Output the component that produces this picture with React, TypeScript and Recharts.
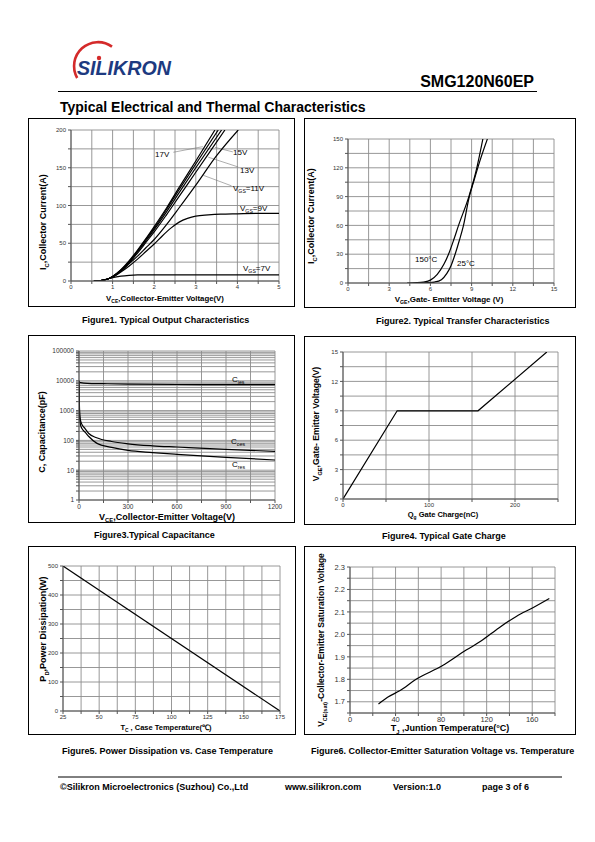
import React from 'react';
import { LineChart, Line, XAxis, YAxis, CartesianGrid, ReferenceLine } from 'recharts';

const FONT = '"Liberation Sans", Arial, Helvetica, sans-serif';

// ---------- Figure 1: output characteristics (VCE [V], IC [A]) ----------
const fig1XTicks = [0, 0.5, 1, 1.5, 2, 2.5, 3, 3.5, 4, 4.5, 5];
const fig1YTicks = [0, 25, 50, 75, 100, 125, 150, 175, 200];
const vgs19V = [[0.55, 0], [0.75, 1], [0.9, 3], [1.0, 6], [1.2, 15], [1.4, 27], [1.6, 41], [1.8, 56], [2.0, 72], [2.3, 97], [2.6, 124], [3.0, 159], [3.46, 200]];
const vgs17V = [[0.55, 0], [0.75, 1], [0.9, 3], [1.0, 6], [1.2, 14.5], [1.4, 26], [1.6, 40], [1.8, 55], [2.0, 70], [2.3, 95], [2.6, 121], [3.0, 155], [3.54, 200]];
const vgs15V = [[0.55, 0], [0.75, 1], [0.9, 3], [1.0, 6], [1.2, 14], [1.4, 25], [1.6, 39], [1.8, 53], [2.0, 68], [2.3, 92], [2.6, 117], [3.0, 150], [3.62, 200]];
const vgs13V = [[0.55, 0], [0.75, 1], [0.9, 3], [1.0, 5.5], [1.2, 13.5], [1.4, 24], [1.6, 37], [1.8, 51], [2.0, 65], [2.3, 88], [2.6, 112], [3.0, 144], [3.7, 200]];
const vgs11V = [[0.55, 0], [0.75, 1], [0.9, 3], [1.0, 5.5], [1.2, 13], [1.4, 23], [1.6, 33], [1.8, 44], [2.0, 55], [2.3, 75], [2.6, 97], [3.0, 127], [3.5, 166], [4.02, 200]];
const vgs9V = [[0.55, 0], [0.75, 1], [0.9, 3], [1.0, 5], [1.2, 12], [1.4, 20], [1.6, 29], [1.8, 39], [2.0, 49], [2.2, 60], [2.4, 70], [2.6, 78], [2.8, 83], [3.0, 86], [3.3, 87.5], [3.6, 88.5], [4.0, 89], [4.5, 89.5], [5.0, 89.5]];
const vgs7V = [[0.55, 0], [0.75, 1], [0.9, 3], [1.0, 4.5], [1.2, 6.5], [1.4, 7.5], [1.6, 8], [2.0, 8], [3.0, 8], [4.0, 8.2], [5.0, 8]];
// annotation leader lines [x1, y1, x2, y2] in data units
const fig1Leaders = [[2.46, 170.5, 3.17, 178], [3.46, 177, 3.89, 171], [3.3, 164, 4.02, 151], [3.18, 140, 3.86, 126]];

// ---------- Figure 2: transfer characteristics (VGE [V], IC [A]) ----------
const fig2XTicks = [0, 1.5, 3, 4.5, 6, 7.5, 9, 10.5, 12, 13.5, 15];
const fig2YTicks = [0, 15, 30, 45, 60, 75, 90, 105, 120, 135, 150];
const tj150 = [[4.3, 0], [5, 0.3], [5.5, 1], [6, 3], [6.5, 9], [7, 20], [7.32, 30], [7.7, 45], [8.05, 60], [8.8, 90], [9.38, 120], [9.82, 150]];
const tj25 = [[5, 0], [5.8, 0.3], [6.3, 1], [6.8, 3.5], [7.2, 10], [7.5, 18], [7.8, 30], [8.1, 44], [8.41, 60], [8.8, 88], [9.2, 108], [9.6, 127], [10.15, 150]];

// ---------- Figure 3: capacitance (VCE [V], C [pF]) ----------
const fig3XTicks = [0, 150, 300, 450, 600, 750, 900, 1050, 1200];
const fig3YTicks = [1, 2, 3, 4, 5, 6, 7, 8, 9, 10, 20, 30, 40, 50, 60, 70, 80, 90, 100, 200, 300, 400, 500, 600, 700, 800, 900, 1000, 2000, 3000, 4000, 5000, 6000, 7000, 8000, 9000, 10000, 20000, 30000, 40000, 50000, 60000, 70000, 80000, 90000, 100000];
const cies = [[0, 8800], [50, 8200], [150, 8000], [300, 7700], [600, 7500], [900, 7450], [1200, 7400]];
const coes = [[0, 10000], [2, 2000], [5, 700], [10, 450], [20, 330], [37, 250], [60, 170], [108, 123], [200, 92], [300, 77], [450, 66], [600, 60], [900, 50], [1200, 43]];
const cres = [[0, 10000], [2, 1500], [5, 500], [10, 320], [20, 240], [37, 190], [60, 135], [108, 81], [200, 58], [300, 46], [450, 39], [600, 34], [900, 27], [1200, 22]];

// ---------- Figure 4: gate charge (Qg [nC], VGE [V]) ----------
const fig4XTicks = [0, 50, 100, 150, 200, 250];
const fig4YTicks = [0, 1.5, 3, 4.5, 6, 7.5, 9, 10.5, 12, 13.5, 15];
const gateCharge = [[0, 0], [63, 9], [157, 9], [237, 15]];

// ---------- Figure 5: power dissipation (TC [°C], PD [W]) ----------
const fig5XTicks = [25, 37.5, 50, 62.5, 75, 87.5, 100, 112.5, 125, 137.5, 150, 162.5, 175];
const fig5YTicks = [0, 50, 100, 150, 200, 250, 300, 350, 400, 450, 500];
const powerDiss = [[25, 500], [175, 0]];

// ---------- Figure 6: VCE(sat) vs TJ ----------
const fig6XTicks = [0, 20, 40, 60, 80, 100, 120, 140, 160, 180];
const fig6YTicks = [1.65, 1.7, 1.75, 1.8, 1.85, 1.9, 1.95, 2.0, 2.05, 2.1, 2.15, 2.2, 2.25, 2.3];
const vceSat = [[25, 1.69], [33, 1.72], [44, 1.75], [58, 1.8], [81, 1.86], [102, 1.93], [115, 1.97], [131, 2.03], [146, 2.08], [161, 2.12], [175, 2.16]];

const toXY = (a: number[][]) => a.map(([x, y]) => ({ x, y }));

type Rect = { x: number; y: number; w: number; h: number };
type Area = { l: number; t: number; r: number; b: number };
const YW = 30;
const XH = 12;

function Panel(props: any) {
  const { box, plot, xDomain, xTicks, xFmt, yDomain, yTicks, yFmt, yScale, fs, children } = props;
  const b: Rect = box;
  const p: Area = plot;
  const margin = { top: p.t - b.y, right: b.x + b.w - p.r, bottom: b.y + b.h - p.b - XH, left: p.l - b.x - YW };
  const tickStyle = { fontSize: fs, fill: '#333', fontFamily: FONT };
  return (
    <div style={{ position: 'absolute', left: b.x, top: b.y, width: b.w, height: b.h }}>
      <LineChart width={b.w} height={b.h} margin={margin}>
        <CartesianGrid stroke="#8c8c8c" strokeWidth={0.9} />
        <XAxis type="number" dataKey="x" domain={xDomain} ticks={xTicks} tickFormatter={xFmt} interval={0}
          allowDataOverflow height={XH} tick={tickStyle} tickSize={3} tickMargin={1} stroke="#555" />
        <YAxis type="number" dataKey="y" domain={yDomain} ticks={yTicks} tickFormatter={yFmt} interval={0}
          allowDataOverflow width={YW} scale={yScale || 'auto'} tick={tickStyle} tickSize={3} tickMargin={2} stroke="#555" />
        {children}
      </LineChart>
    </div>
  );
}

const line = (data: number[][], key: string, type: any = 'monotone') => (
  <Line key={key} data={toXY(data)} dataKey="y" type={type} stroke="#000" strokeWidth={1.2} dot={false}
    isAnimationActive={false} />
);

function SubText(props: any) {
  const { x, y, main, sub, rest, size, rotate, anchor = 'middle', weight = 'bold' } = props;
  const tr = rotate ? `rotate(-90 ${x} ${y})` : undefined;
  return (
    <text x={x} y={y} fontSize={size} fontWeight={weight} textAnchor={anchor} transform={tr}
      fontFamily={FONT} fill="#000">
      {main}
      <tspan fontSize={size * 0.65} dy={size * 0.3}>{sub}</tspan>
      <tspan dy={-size * 0.3}>{rest}</tspan>
    </text>
  );
}

const boxes: Rect[] = [
  { x: 28, y: 118, w: 267, h: 189 },
  { x: 304, y: 118, w: 272, h: 190 },
  { x: 28, y: 335, w: 267, h: 188 },
  { x: 304, y: 336, w: 272, h: 189 },
  { x: 28, y: 546, w: 268, h: 189 },
  { x: 304, y: 546, w: 272, h: 189 },
];

export default function App() {
  return (
    <div style={{ position: 'absolute', left: 0, top: 0, width: 595, height: 842, background: '#fff', overflow: 'hidden' }}>
      {boxes.map((b, i) => (
        <div key={i} style={{ position: 'absolute', left: b.x, top: b.y, width: b.w, height: b.h, border: '1.5px solid #000', boxSizing: 'border-box' }} />
      ))}

      <Panel box={boxes[0]} plot={{ l: 71, t: 130, r: 279, b: 281 }} fs={6}
        xDomain={[0, 5]} xTicks={fig1XTicks} xFmt={(v: number) => (Number.isInteger(v) ? String(v) : '')}
        yDomain={[0, 200]} yTicks={fig1YTicks} yFmt={(v: number) => (v % 50 === 0 ? String(v) : '')}>
        {fig1Leaders.map((s, i) => (
          <ReferenceLine key={'l' + i} segment={[{ x: s[0], y: s[1] }, { x: s[2], y: s[3] }]} stroke="#777" strokeWidth={0.6} />
        ))}
        {line(vgs7V, 'v7')}
        {line(vgs9V, 'v9')}
        {line(vgs11V, 'v11')}
        {line(vgs13V, 'v13')}
        {line(vgs15V, 'v15')}
        {line(vgs17V, 'v17')}
        {line(vgs19V, 'v19')}
      </Panel>

      <Panel box={boxes[1]} plot={{ l: 348, t: 139, r: 554, b: 283 }} fs={6}
        xDomain={[0, 15]} xTicks={fig2XTicks} xFmt={(v: number) => (v % 3 === 0 ? String(v) : '')}
        yDomain={[0, 150]} yTicks={fig2YTicks} yFmt={(v: number) => (v % 30 === 0 ? String(v) : '')}>
        {line(tj150, 't150')}
        {line(tj25, 't25')}
      </Panel>

      <Panel box={boxes[2]} plot={{ l: 79, t: 351, r: 275, b: 500 }} fs={6.5} yScale="log"
        xDomain={[0, 1200]} xTicks={fig3XTicks} xFmt={(v: number) => (v % 300 === 0 ? String(v) : '')}
        yDomain={[1, 100000]} yTicks={fig3YTicks} yFmt={(v: number) => (/^10*$/.test(String(v)) ? String(v) : '')}>
        {line(cies, 'cies')}
        {line(coes, 'coes')}
        {line(cres, 'cres')}
      </Panel>

      <Panel box={boxes[3]} plot={{ l: 343, t: 352, r: 558, b: 499 }} fs={6}
        xDomain={[0, 250]} xTicks={fig4XTicks} xFmt={(v: number) => (v % 100 === 0 ? String(v) : '')}
        yDomain={[0, 15]} yTicks={fig4YTicks} yFmt={(v: number) => (v % 3 === 0 ? String(v) : '')}>
        {line(gateCharge, 'qg', 'linear')}
      </Panel>

      <Panel box={boxes[4]} plot={{ l: 63, t: 566, r: 280, b: 711 }} fs={6}
        xDomain={[25, 175]} xTicks={fig5XTicks} xFmt={(v: number) => ((v - 25) % 25 === 0 ? String(v) : '')}
        yDomain={[0, 500]} yTicks={fig5YTicks} yFmt={(v: number) => (v % 100 === 0 ? String(v) : '')}>
        {line(powerDiss, 'pd', 'linear')}
      </Panel>

      <Panel box={boxes[5]} plot={{ l: 350, t: 567, r: 555, b: 713 }} fs={7.5}
        xDomain={[0, 180]} xTicks={fig6XTicks} xFmt={(v: number) => (v % 40 === 0 && v < 180 ? String(v) : '')}
        yDomain={[1.65, 2.3]} yTicks={fig6YTicks}
        yFmt={(v: number) => (Math.abs(v * 10 - Math.round(v * 10)) < 1e-6 ? v.toFixed(1) : '')}>
        {line(vceSat, 'vce')}
      </Panel>

      <svg width={595} height={842} style={{ position: 'absolute', left: 0, top: 0, pointerEvents: 'none' }}>
        {/* logo */}
        <path d="M 112 46.6 A 24 24 0 0 0 77.2 78" stroke="#d42a2a" strokeWidth={2.6} fill="none" />
        <text x={77} y={75} fontSize={20} fontWeight="bold" fontStyle="italic" fill="#1d3a80" fontFamily={FONT}
          textLength={94} lengthAdjust="spacingAndGlyphs">SILIKRON</text>
        <circle cx={99} cy={58} r={2.2} fill="#d42a2a" />

        <text x={534} y={87} fontSize={16} fontWeight="bold" textAnchor="end" fontFamily={FONT}>SMG120N60EP</text>
        <line x1={58} y1={91.5} x2={537} y2={91.5} stroke="#000" strokeWidth={1.2} />
        <text x={60} y={112} fontSize={14} fontWeight="bold" fontFamily={FONT}>Typical Electrical and Thermal Characteristics</text>

        {/* Figure 1 texts */}
        <SubText x={46} y={222} rotate main="I" sub="C" rest=",Collector Current(A)" size={9} />
        <SubText x={165} y={301} main="V" sub="CE" rest=",Collector-Emitter Voltage(V)" size={7.8} />
        <text x={155} y={157} fontSize={8} fontFamily={FONT}>17V</text>
        <text x={233} y={155} fontSize={8} fontFamily={FONT}>15V</text>
        <text x={240} y={173} fontSize={8} fontFamily={FONT}>13V</text>
        <SubText x={233} y={191} anchor="start" weight="normal" main="V" sub="GS" rest="=11V" size={8} />
        <SubText x={240} y={211} anchor="start" weight="normal" main="V" sub="GS" rest="=9V" size={8} />
        <SubText x={243} y={271} anchor="start" weight="normal" main="V" sub="GS" rest="=7V" size={8} />
        <text x={82} y={323} fontSize={9} fontWeight="bold" fontFamily={FONT}>Figure1. Typical Output Characteristics</text>

        {/* Figure 2 texts */}
        <SubText x={314} y={216} rotate main="I" sub="C" rest=",Collector Current(A)" size={9} />
        <SubText x={449} y={302} main="V" sub="GE" rest=",Gate- Emitter Voltage (V)" size={8} />
        <text x={415} y={262} fontSize={8} fontFamily={FONT}>150°C</text>
        <text x={457} y={266} fontSize={8} fontFamily={FONT}>25°C</text>
        <text x={376} y={324} fontSize={9} fontWeight="bold" fontFamily={FONT}>Figure2. Typical Transfer Characteristics</text>

        {/* Figure 3 texts */}
        <text x={45} y={432} fontSize={9} fontWeight="bold" fontFamily={FONT} textAnchor="middle" transform="rotate(-90 45 432)">C, Capacitance(pF)</text>
        <SubText x={167} y={519.5} main="V" sub="CE" rest=",Collector-Emitter Voltage(V)" size={9} />
        <SubText x={232} y={382} anchor="start" weight="normal" main="C" sub="ies" rest="" size={8} />
        <SubText x={231} y={444} anchor="start" weight="normal" main="C" sub="oes" rest="" size={8} />
        <SubText x={232} y={467} anchor="start" weight="normal" main="C" sub="res" rest="" size={8} />
        <text x={94} y={538} fontSize={9} fontWeight="bold" fontFamily={FONT}>Figure3.Typical Capacitance</text>

        {/* Figure 4 texts */}
        <SubText x={319} y={424} rotate main="V" sub="GE" rest=",Gate- Emitter Voltage(V)" size={8.6} />
        <SubText x={443} y={517} main="Q" sub="g" rest=" Gate Charge(nC)" size={7.5} />
        <text x={382} y={539} fontSize={9} fontWeight="bold" fontFamily={FONT}>Figure4. Typical Gate Charge</text>

        {/* Figure 5 texts */}
        <SubText x={46} y={629} rotate main="P" sub="D" rest=",Power Dissipation(W)" size={9} />
        <SubText x={166} y={730} main="T" sub="C" rest=" , Case Temperature(℃)" size={7.5} />
        <text x={62} y={754} fontSize={9} fontWeight="bold" fontFamily={FONT}>Figure5. Power Dissipation vs. Case Temperature</text>

        {/* Figure 6 texts */}
        <SubText x={324} y={640} rotate main="V" sub="CE(sat)" rest="-Collector-Emitter Saturation Voltage" size={8.5} />
        <SubText x={450} y={731} main="T" sub="J" rest=" ,Juntion Temperature(°C)" size={9} />
        <text x={311} y={754} fontSize={9} fontWeight="bold" fontFamily={FONT}>Figure6. Collector-Emitter Saturation Voltage vs. Temperature</text>

        {/* footer */}
        <line x1={58} y1={777} x2={562} y2={777} stroke="#000" strokeWidth={1} />
        <text x={60} y={790} fontSize={9} fontWeight="bold" fontFamily={FONT}>©Silikron Microelectronics (Suzhou) Co.,Ltd</text>
        <text x={285} y={790} fontSize={9} fontWeight="bold" fontFamily={FONT}>www.silikron.com</text>
        <text x={393} y={790} fontSize={9} fontWeight="bold" fontFamily={FONT}>Version:1.0</text>
        <text x={482} y={790} fontSize={9} fontWeight="bold" fontFamily={FONT}>page  3  of  6</text>
      </svg>
    </div>
  );
}
